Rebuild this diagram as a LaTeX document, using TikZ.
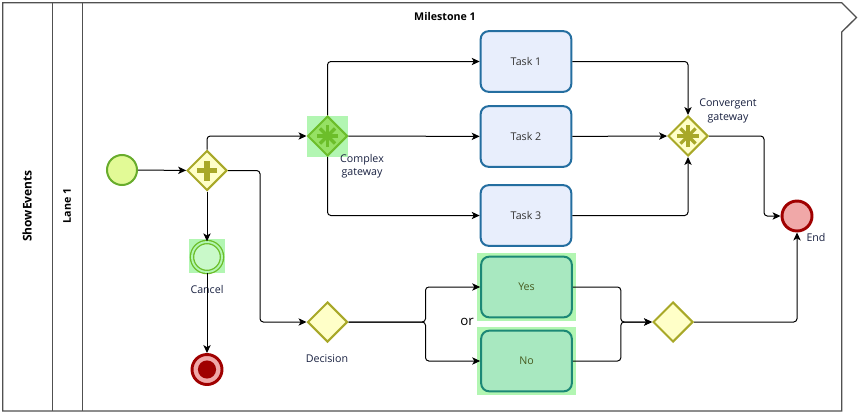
\documentclass[tikz,border=0pt]{standalone}
\usepackage{fontspec}
\setmainfont{Open Sans}
\usetikzlibrary{arrows.meta,shapes.geometric,backgrounds}
\definecolor{olivegw}{RGB}{168,168,40}
\definecolor{gwfill}{RGB}{255,255,200}
\definecolor{greengw}{RGB}{108,190,42}
\definecolor{greenfill}{RGB}{150,225,100}
\definecolor{hilite}{RGB}{178,246,178}
\definecolor{startfill}{RGB}{226,250,150}
\definecolor{startline}{RGB}{104,172,44}
\definecolor{endfill}{RGB}{240,168,168}
\definecolor{endline}{RGB}{160,0,0}
\definecolor{taskfill}{RGB}{232,238,252}
\definecolor{taskline}{RGB}{36,110,160}
\definecolor{choicefill}{RGB}{168,232,192}
\definecolor{choiceline}{RGB}{28,136,118}
\definecolor{labeltext}{RGB}{24,32,64}
\definecolor{poolline}{RGB}{80,80,80}
\begin{document}
\begin{tikzpicture}[x=0.75pt,y=-0.75pt,
  font=\fontsize{8}{10}\selectfont,
  flow/.style={-{Stealth[length=6pt,width=5.5pt,inset=1.6pt]},line width=0.75pt,rounded corners=2.5pt},
  task/.style={draw=taskline,fill=taskfill,line width=1.5pt,rounded corners=6pt,
    minimum width=68pt,minimum height=45.5pt,text=black!80},
  choice/.style={task,draw=choiceline,fill=choicefill,text={rgb,255:red,70;green,90;blue,30}},
  gateway/.style={diamond,draw=olivegw,fill=gwfill,line width=1.5pt,minimum size=30pt,inner sep=0pt},
  plusmark/.style={path picture={
    \draw[olivegw,line width=3.8pt] (path picture bounding box.center) +(-7.5pt,0) -- +(7.5pt,0);
    \draw[olivegw,line width=3.8pt] (path picture bounding box.center) +(0,-7.5pt) -- +(0,7.5pt);}},
  starmark/.style={path picture={
    \foreach \a in {0,45,90,135}
      \draw[#1,line width=2.4pt] (path picture bounding box.center) +(\a:8pt) -- +(\a+180:8pt);}},
  event/.style={circle,minimum size=22.5pt,inner sep=0pt},
  lbl/.style={text=labeltext,align=center,inner sep=0pt},
  poolstyle/.style={draw=poolline,line width=1pt}]
\useasboundingbox (0,0) rectangle (859,414);

\draw[poolstyle] (2.7,2.7) -- (841.7,2.7) -- (856.5,17.5) -- (841.7,32) -- (841.7,411) -- (2.7,411) -- cycle;
\draw[poolstyle] (52.3,2.7) -- (52.3,411);
\draw[poolstyle] (82.7,2.7) -- (82.7,411);
\node[rotate=90,font=\fontsize{9}{11}\selectfont\bfseries] (pool) at (27,206) {ShowEvents};
\node[rotate=90,font=\fontsize{8}{10}\selectfont\bfseries] (lane) at (67,206) {Lane 1};
\node[font=\fontsize{8}{10}\selectfont\bfseries] (mile) at (445,16) {Milestone 1};

\node[event,draw=startline,fill=startfill,line width=1.5pt] (start) at (122,170) {};
\node[gateway,plusmark] (pgw) at (207,170.5) {};
\node[gateway,draw=greengw,fill=greenfill,starmark=greengw] (cgw) at (327.5,136) {};
\node[lbl] (cgwlbl) at (362,166) {Complex\\gateway};

\node[task] (t1) at (526,61.5) {Task 1};
\node[task] (t2) at (526,136.5) {Task 2};
\node[task] (t3) at (526,215.5) {Task 3};

\node[gateway,starmark=olivegw] (vgw) at (688,136) {};
\node[lbl] (vgwlbl) at (728,111) {Convergent\\gateway};

\node[event,draw=endline,fill=endfill,line width=2.2pt] (endev) at (797,216) {};
\node[lbl] (endlbl) at (816,237) {End};

\node[event,draw=greengw,double=hilite,double distance=1.4pt,line width=1pt,fill=hilite!70!white] (cancel) at (207,257) {};
\node[lbl] (cancellbl) at (207,289) {Cancel};

\node[event,draw=endline,fill=endfill,line width=2.2pt,
  path picture={\fill[endline] (path picture bounding box.center) circle (6.8pt);}] (term) at (207,369.5) {};

\node[gateway] (dec) at (327.5,322) {};
\node[lbl] (declbl) at (327,359) {Decision};

\node[choice] (yes) at (526.5,287) {Yes};
\node[choice] (no) at (526.5,361) {No};
\node[lbl,text=black,font=\fontsize{10}{12}\selectfont] (orlbl) at (467,322) {or};

\node[gateway] (mgw) at (673,322) {};

\begin{pgfonlayer}{background}
\fill[hilite] ([shift={(-20.5,-20.5)}]cgw.center) rectangle ([shift={(20.5,20.5)}]cgw.center);
\fill[hilite] ([shift={(-18,-18)}]cancel.center) rectangle ([shift={(18,15.5)}]cancel.center);
\fill[hilite] ([shift={(-3,-3)}]yes.north west) rectangle ([shift={(3,3)}]yes.south east);
\fill[hilite] ([shift={(-3,-3)}]no.north west) rectangle ([shift={(3,3)}]no.south east);
\end{pgfonlayer}

\draw[flow] (start) -- (pgw);
\draw[flow] (pgw.north) |- (cgw.west);
\draw[flow] (pgw.south) -- (cancel.north);
\draw[flow] (cancel.south) -- (term.north);
\draw[flow] (pgw.east) -- ++(32,0) |- (dec.west);
\draw[flow] (cgw.north) |- (t1.west);
\draw[flow] (cgw) -- (t2);
\draw[flow] (cgw.south) |- (t3.west);
\draw[flow] (t1.east) -| (vgw.north);
\draw[flow] (t2) -- (vgw);
\draw[flow] (t3.east) -| (vgw.south);
\draw[flow] (vgw.east) -- ++(55,0) |- (endev.west);
\draw[flow] (dec.east) -- ++(77,0) |- (yes.west);
\draw[flow] (dec.east) -- ++(77,0) |- (no.west);
\draw[flow] (yes.east) -- ++(48,0) |- (mgw.west);
\draw[flow] (no.east) -- ++(48,0) |- (mgw.west);
\draw[flow] (mgw.east) -| (endev.south);
\end{tikzpicture}
\end{document}
